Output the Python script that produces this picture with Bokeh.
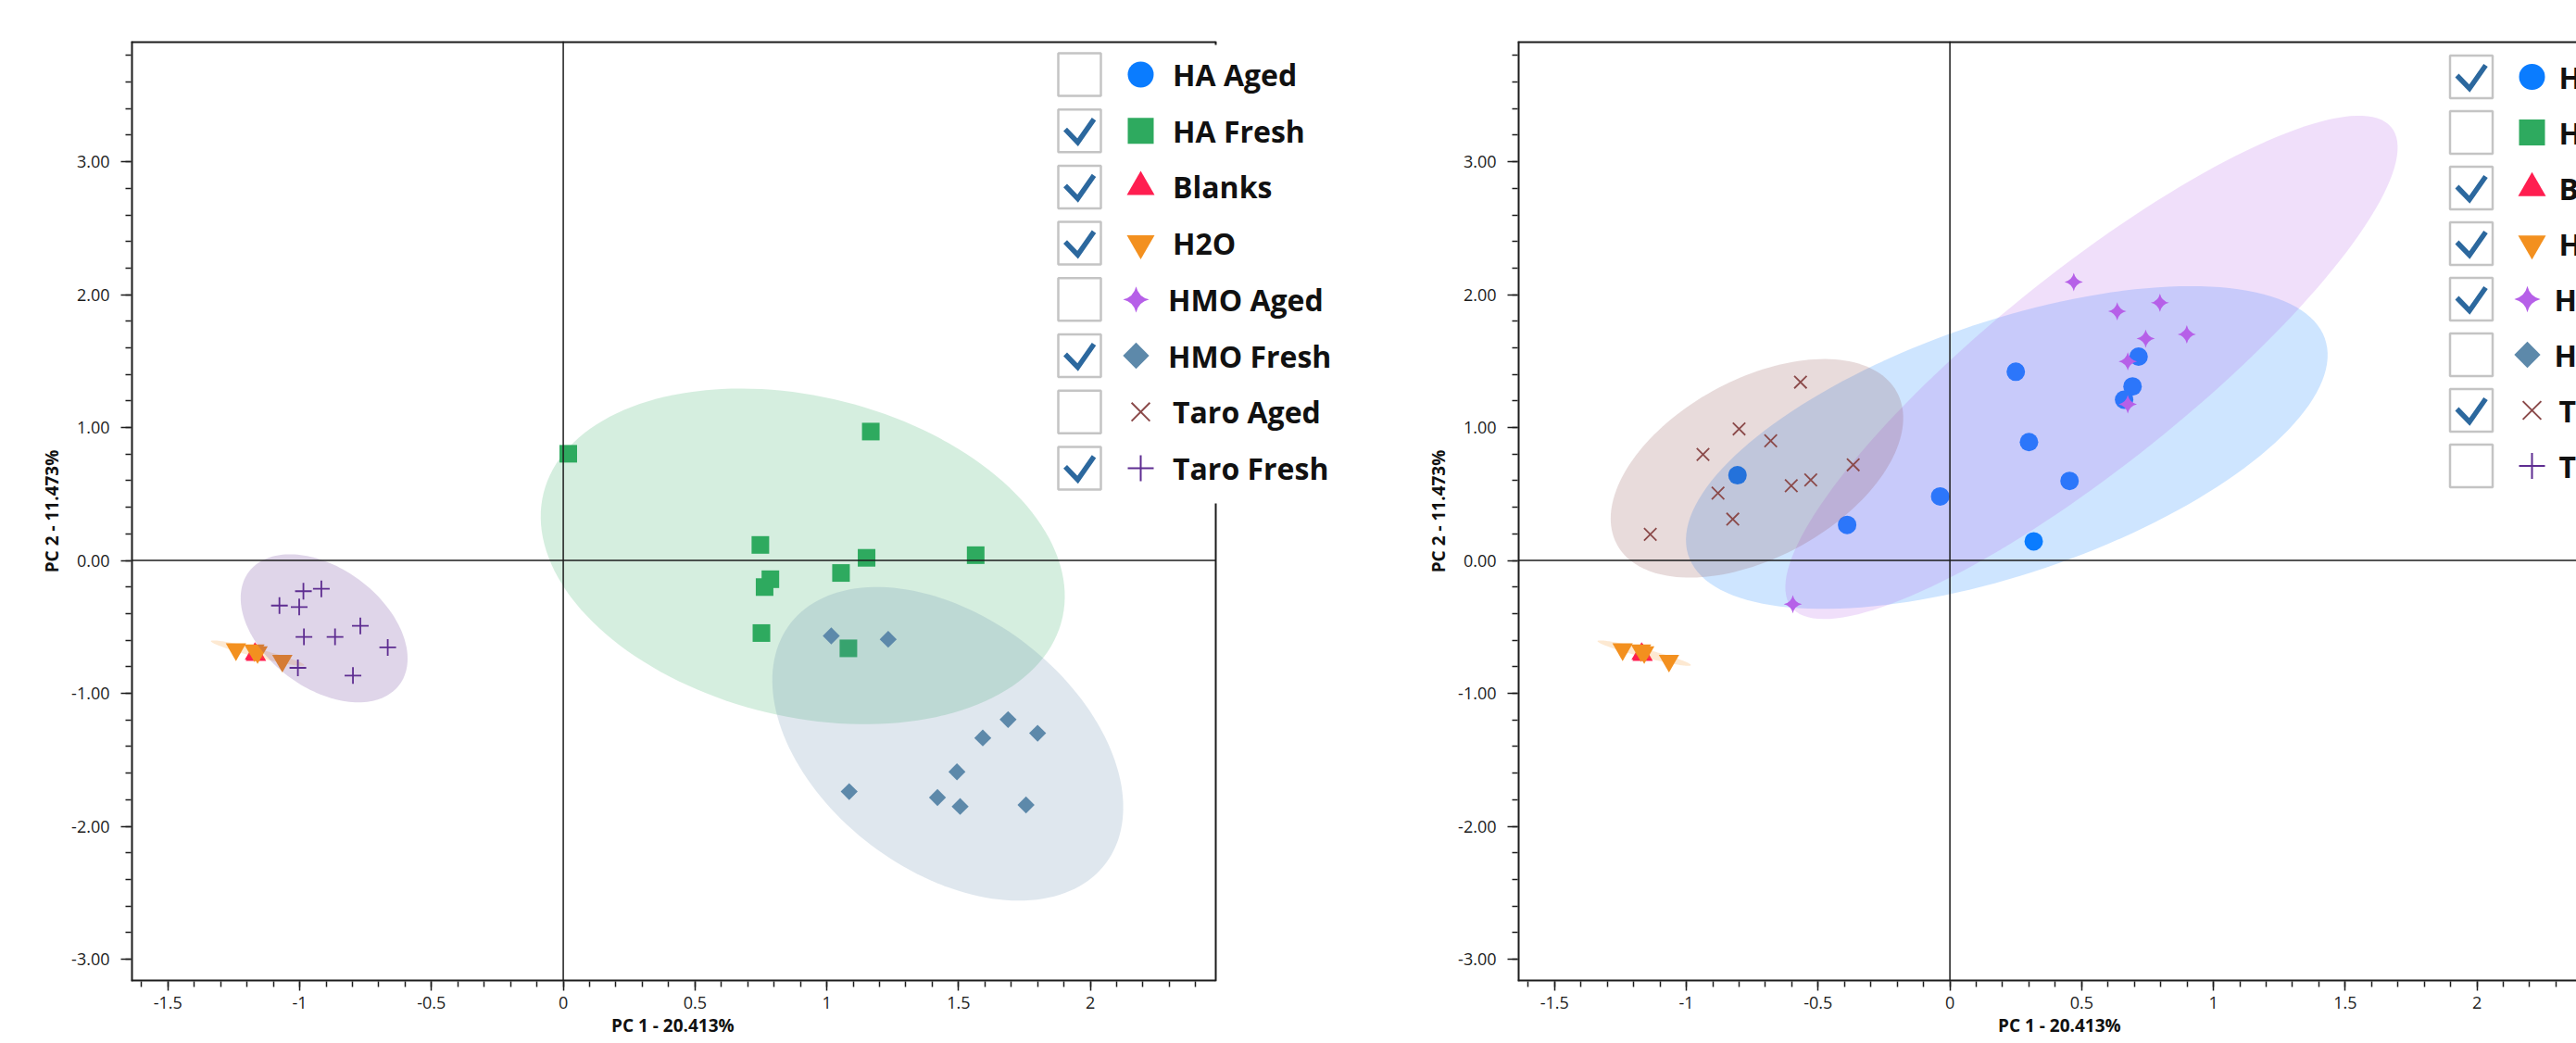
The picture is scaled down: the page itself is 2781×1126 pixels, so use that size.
import math
import numpy as np
from bokeh.plotting import figure
from bokeh.layouts import row
from bokeh.models import Range1d, FixedTicker, Label, Title
from bokeh.embed import file_html
from bokeh.resources import INLINE

# ---------------- data ----------------
series_names = ["HA Aged", "HA Fresh", "Blanks", "H2O",
                "HMO Aged", "HMO Fresh", "Taro Aged", "Taro Fresh"]

ha_aged_x = [-0.806, -0.390, -0.037, 0.250, 0.300, 0.318, 0.454, 0.716, 0.693, 0.661]
ha_aged_y = [0.641, 0.268, 0.482, 1.420, 0.891, 0.144, 0.599, 1.534, 1.310, 1.210]

ha_fresh_x = [0.019, 1.167, 0.748, 1.151, 1.565, 1.054, 0.786, 0.764, 0.752, 1.082]
ha_fresh_y = [0.803, 0.970, 0.117, 0.020, 0.040, -0.094, -0.141, -0.200, -0.546, -0.661]

blanks_x = [-1.170, -1.166]
blanks_y = [-0.703, -0.712]

h2o_x = [-1.242, -1.172, -1.160, -1.066]
h2o_y = [-0.668, -0.676, -0.690, -0.754]

hmo_aged_x = [0.470, 0.635, 0.797, 0.743, 0.899, 0.675, 0.675, -0.596]
hmo_aged_y = [2.095, 1.875, 1.939, 1.669, 1.701, 1.498, 1.175, -0.329]

hmo_fresh_x = [1.017, 1.233, 1.688, 1.592, 1.800, 1.494, 1.085, 1.420, 1.506, 1.756]
hmo_fresh_y = [-0.567, -0.593, -1.197, -1.335, -1.300, -1.590, -1.739, -1.784, -1.851, -1.839]

taro_aged_x = [-0.567, -0.800, -0.680, -0.937, -0.367, -0.528, -0.602, -0.880, -0.824, -1.137]
taro_aged_y = [1.342, 0.990, 0.901, 0.798, 0.720, 0.606, 0.563, 0.507, 0.311, 0.197]

taro_fresh_x = [-0.986, -0.918, -1.077, -1.002, -0.770, -0.984, -0.866, -0.666, -1.007, -0.798]
taro_fresh_y = [-0.231, -0.213, -0.339, -0.350, -0.492, -0.575, -0.575, -0.654, -0.808, -0.866]

series_x = [ha_aged_x, ha_fresh_x, blanks_x, h2o_x, hmo_aged_x, hmo_fresh_x, taro_aged_x, taro_fresh_x]
series_y = [ha_aged_y, ha_fresh_y, blanks_y, h2o_y, hmo_aged_y, hmo_fresh_y, taro_aged_y, taro_fresh_y]

left_checked = [False, True, True, True, False, True, False, True]
right_checked = [True, False, True, True, True, False, True, False]

x_tick_values = [-1.5, -1.0, -0.5, 0.0, 0.5, 1.0, 1.5, 2.0]
x_tick_labels = ["-1.5", "-1", "-0.5", "0", "0.5", "1", "1.5", "2"]
y_tick_values = [-3.0, -2.0, -1.0, 0.0, 1.0, 2.0, 3.0]
y_tick_labels = ["-3.00", "-2.00", "-1.00", "0.00", "1.00", "2.00", "3.00"]
x_title = "PC 1 - 20.413%"
y_title = "PC 2 - 11.473%"

# ---------------- style ----------------
colors = ["#0A7CFF", "#2EAA5F", "#FF1E50", "#F3901F",
          "#B660E8", "#5D89AA", "#8B4A4A", "#5E2D91"]
markers = ["circle", "square", "triangle", "inverted_triangle",
           "square_pin", "square", "x", "cross"]
angles = [0, 0, 0, 0, math.pi / 4, math.pi / 4, 0, 0]
data_sizes = [20, 19, 22, 22, 14, 13, 19, 18]
legend_sizes = [28, 28, 30, 30, 20, 20, 28, 28]
legend_shift = [0, 0, 0, 0, -5, -5, 0, 0]

CONF_K = math.sqrt(-2.0 * math.log(0.05))   # 95% confidence ellipse
PX_PER_X = 284.5
X_START = -1.64
Y_START, Y_END = -3.167, 3.907
FIG_H = 1126
BORDER_T, BORDER_B = 44, 67
FRAME_H = FIG_H - BORDER_T - BORDER_B
NOMINAL_FRAME_W = 1171          # width of the boxed plot area
FONT = "Open Sans"
INK = "#1c1c1c"

x_minor = [round(-1.6 + 0.1 * i, 1) for i in range(41)]
y_minor = [round(-3.0 + 0.2 * i, 1) for i in range(35)]


def conf_ellipse(xs, ys, n=160):
    x = np.asarray(xs, float)
    y = np.asarray(ys, float)
    cov = np.cov(x, y)
    vals, vecs = np.linalg.eigh(cov)
    vals = np.clip(vals, 0, None)
    t = np.linspace(0, 2 * np.pi, n)
    circ = np.vstack([np.cos(t), np.sin(t)])
    pts = vecs @ (np.sqrt(vals)[:, None] * circ) * CONF_K
    return x.mean() + pts[0], y.mean() + pts[1]


def marker_style(i, lw):
    if markers[i] in ("x", "cross"):
        return dict(line_color=colors[i], line_width=lw, fill_color=None)
    return dict(fill_color=colors[i], line_color=None)


def make_panel(checked, fig_w, border_l, leg, boxed_right):
    frame_w = fig_w - border_l
    x_end = X_START + frame_w / PX_PER_X
    x_vis = X_START + NOMINAL_FRAME_W / PX_PER_X
    p = figure(width=fig_w, height=FIG_H,
               x_range=Range1d(X_START, x_end),
               y_range=Range1d(Y_START, Y_END),
               output_backend="svg", toolbar_location=None,
               min_border_left=border_l, min_border_right=0,
               min_border_top=BORDER_T, min_border_bottom=BORDER_B,
               background_fill_color="white", border_fill_color="white",
               outline_line_color=None)
    p.grid.visible = False
    p.extra_x_ranges = {"lx": Range1d(0, frame_w)}
    p.extra_y_ranges = {"ly": Range1d(FRAME_H, 0)}

    xa = p.xaxis[0]
    ya = p.yaxis[0]
    xa.ticker = FixedTicker(ticks=x_tick_values, minor_ticks=x_minor)
    ya.ticker = FixedTicker(ticks=y_tick_values, minor_ticks=y_minor)
    xa.major_label_overrides = {v: l for v, l in zip(x_tick_values, x_tick_labels)}
    ya.major_label_overrides = {v: l for v, l in zip(y_tick_values, y_tick_labels)}
    ya.axis_label = y_title
    for ax, tout in ((xa, 10), (ya, 11)):
        ax.axis_line_color = None
        ax.major_tick_line_color = INK
        ax.major_tick_line_width = 1.5
        ax.minor_tick_line_color = INK
        ax.minor_tick_line_width = 1.5
        ax.major_tick_in = 0
        ax.major_tick_out = tout
        ax.minor_tick_in = 0
        ax.minor_tick_out = 6
        ax.major_label_text_font = FONT
        ax.major_label_text_font_size = "18px"
        ax.major_label_text_color = INK
        ax.axis_label_text_font = FONT
        ax.axis_label_text_font_style = "bold"
        ax.axis_label_text_font_size = "19px"
        ax.axis_label_text_color = "#111111"
    xa.major_label_standoff = 6
    ya.major_label_standoff = 12
    ya.axis_label_standoff = 5
    # x title, centred under the boxed plot area
    p.add_layout(Title(text=x_title, align="left", offset=NOMINAL_FRAME_W / 2 - 67,
                       text_font=FONT, text_font_style="bold",
                       text_font_size="19px", text_color="#111111", standoff=0),
                 "below")

    # data: ellipse then markers, group by group
    for i in range(len(series_names)):
        if not checked[i]:
            continue
        ex, ey = conf_ellipse(series_x[i], series_y[i])
        p.patch(ex, ey, fill_color=colors[i], fill_alpha=0.2, line_color=None)
        p.scatter(series_x[i], series_y[i], marker=markers[i], size=data_sizes[i],
                  angle=angles[i], **marker_style(i, 1.8))

    # zero lines
    p.segment(x0=[X_START, 0], y0=[0, Y_START], x1=[x_vis, 0], y1=[0, Y_END],
              line_color=INK, line_width=1.5)
    # box around plot area (edges of the frame are half clipped -> width 4)
    p.segment(x0=[X_START, X_START, X_START], y0=[Y_START, Y_END, Y_START],
              x1=[X_START, x_vis, x_vis], y1=[Y_END, Y_END, Y_START],
              line_color=INK, line_width=4)
    if boxed_right:
        p.segment(x0=[x_vis], y0=[Y_START], x1=[x_vis], y1=[Y_END],
                  line_color=INK, line_width=2)

    # legend (pixel coordinates relative to the frame's top-left corner)
    rows_y = [leg["row0"] + leg["step"] * i for i in range(len(series_names))]
    p.quad(left=[leg["box_left"]], right=[frame_w + 60], top=[leg["box_top"]],
           bottom=[leg["box_bottom"]], x_range_name="lx", y_range_name="ly",
           fill_color="white", line_color=None)
    p.rect(x=[leg["cb_x"]] * len(rows_y), y=rows_y, width=46, height=46,
           width_units="screen", height_units="screen",
           fill_color="white", line_color="#c4c4c4", line_width=2.5,
           x_range_name="lx", y_range_name="ly")
    cx = leg["cb_x"]
    xs_chk, ys_chk = [], []
    for i, on in enumerate(checked):
        if on:
            cy = rows_y[i]
            xs_chk.append([cx - 15.5, cx - 2.0, cx + 15.5])
            ys_chk.append([cy - 1.5, cy + 12.5, cy - 12.5])
    p.multi_line(xs_chk, ys_chk, line_color="#2C689E", line_width=5.5,
                 line_join="miter", x_range_name="lx", y_range_name="ly")
    for i in range(len(series_names)):
        p.scatter([leg["mk_x"] + legend_shift[i]], [rows_y[i]], marker=markers[i],
                  size=legend_sizes[i], angle=angles[i],
                  x_range_name="lx", y_range_name="ly", **marker_style(i, 2.0))
        p.add_layout(Label(x=leg["tx_x"] + legend_shift[i], y=rows_y[i],
                           x_range_name="lx", y_range_name="ly",
                           text=series_names[i], text_font=FONT,
                           text_font_style="bold", text_font_size="32px",
                           text_baseline="middle", text_align="left",
                           text_color="#111111"))
    return p


left_leg = dict(row0=36, step=60.7, cb_x=1024, mk_x=1090, tx_x=1124.5,
                box_left=987, box_top=4, box_bottom=499)
right_leg = dict(row0=38.5, step=60.0, cb_x=1029.5, mk_x=1095, tx_x=1124,
                 box_left=992, box_top=4, box_bottom=499)

p1 = make_panel(left_checked, 1505, 141, left_leg, True)
p2 = make_panel(right_checked, 1276, 133, right_leg, False)

layout = row(p1, p2)
open("out.html", "w").write(file_html(layout, INLINE))
